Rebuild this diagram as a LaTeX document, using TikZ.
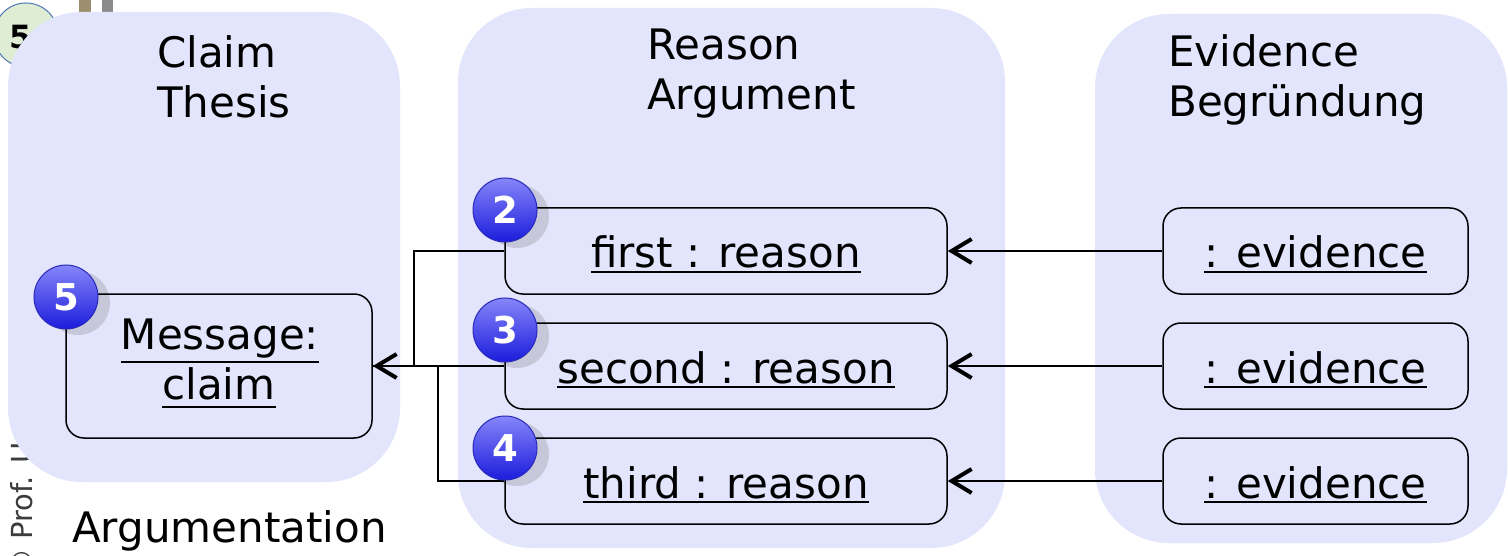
\documentclass[tikz,border=0pt]{standalone}
\usepackage{fontspec}
\setmainfont{DejaVu Sans}
\usetikzlibrary{arrows.meta}
\definecolor{panel}{HTML}{E2E5FC}
\definecolor{shadowc}{HTML}{C6C8DA}
\definecolor{badgetop}{HTML}{8585FA}
\definecolor{badgebot}{HTML}{1C1CDC}
\definecolor{badgeline}{HTML}{2A2AB8}
\definecolor{greenfill}{HTML}{DEEDD3}
\definecolor{greenline}{HTML}{5077B5}
\definecolor{barbrown}{HTML}{9E8E70}
\definecolor{bargray}{HTML}{8A8A8A}
\definecolor{copyc}{HTML}{3C3C3C}
\newcommand\ulin[2]{\leavevmode\setbox0=\hbox{#2}\rlap{\rule[-#1]{\wd0}{2pt}}\box0}
\begin{document}
\begin{tikzpicture}[x=1pt,y=-1pt,
  font=\fontsize{42}{50}\selectfont,
  panelfill/.style={fill=panel, rounded corners=74pt},
  objbox/.style={draw=black, line width=1.5pt, rounded corners=18pt, inner sep=0pt, text height=34pt, text depth=0pt},
  reasonbox/.style={objbox, minimum width=442pt, minimum height=86pt},
  evidbox/.style={objbox, minimum width=305pt, minimum height=86pt},
  msgbox/.style={draw=black, line width=1.5pt, rounded corners=18pt, minimum width=306pt, minimum height=144pt},
  title/.style={anchor=base west, inner sep=0pt},
  conn/.style={draw=black, line width=1.5pt},
  arr/.style={-{Straight Barb[length=20pt,width=24pt,line width=4pt]}},
  badge/.style={circle, minimum size=64pt, inner sep=0pt, draw=badgeline, line width=1pt,
    top color=badgetop, bottom color=badgebot, text=white,
    font=\fontsize{37}{37}\selectfont\bfseries},
  ]
\useasboundingbox (0,0) rectangle (1508,556);
\clip (0,0) rectangle (1508,556);
\fill[white] (0,0) rectangle (1508,556);
% slide artefacts
\fill[barbrown] (79,0) rectangle (91,30);
\fill[bargray] (102,0) rectangle (113,30);
\node[circle, minimum size=64pt, fill=greenfill, draw=greenline, line width=1pt, inner sep=0pt] (g5) at (26,35) {};
\node[inner sep=0pt, font=\fontsize{32}{32}\selectfont\bfseries] (g5t) at (21,37) {5};
\node[rotate=90, anchor=base west, inner sep=0pt, text=copyc, font=\fontsize{29}{29}\selectfont] (copy) at (32,578) {© Prof. U};
% panels
\fill[panelfill] (8,12) rectangle (400,482);
\fill[panelfill] (458,8) rectangle (1005,548);
\fill[panelfill] (1095,14) rectangle (1507,543);
% titles
\node[title] (t1a) at (157,68) {Claim};
\node[title] (t1b) at (157,118) {Thesis};
\node[title] (t2a) at (647,60) {Reason};
\node[title] (t2b) at (647,110) {Argument};
\node[title] (t3a) at (1168,67) {Evidence};
\node[title] (t3b) at (1168,117) {Begründung};
\node[title] (argu) at (72,542) {Argumentation};
% shadows of badges
\foreach \x/\y in {66/297, 505/210, 505/330, 505/448}
  \fill[shadowc] (\x+12,\y+6) circle[radius=32pt];
% boxes
\node[msgbox] (msg) at (219,366) {};
\node[anchor=base, inner sep=0pt] (msgt1) at (220,349) {\ulin{14pt}{Message:}};
\node[anchor=base, inner sep=0pt] (msgt2) at (219,399) {\ulin{9pt}{claim}};
\node[reasonbox] (r1) at (726,251) {\ulin{5pt}{first : reason}};
\node[reasonbox] (r2) at (726,366) {\ulin{5pt}{second : reason}};
\node[reasonbox] (r3) at (726,481) {\ulin{5pt}{third : reason}};
\node[evidbox] (e1) at (1315.5,251) {\ulin{5pt}{: evidence}};
\node[evidbox] (e2) at (1315.5,366) {\ulin{5pt}{: evidence}};
\node[evidbox] (e3) at (1315.5,481) {\ulin{5pt}{: evidence}};
% connectors
\draw[conn, arr] (e1) -- (r1);
\draw[conn, arr] (e2) -- (r2);
\draw[conn, arr] (e3) -- (r3);
\coordinate (j1) at (414,251);
\coordinate (j3) at (438,366);
\draw[conn] (r1.west) -- (j1) |- (msg.east);
\draw[conn] (r3.west) -| (j3);
\draw[conn, arr] (r2.west) -- (msg.east);
% badges
\node[badge] (b5) at (66,297) {5};
\node[badge] (b2) at (505,210) {2};
\node[badge] (b3) at (505,330) {3};
\node[badge] (b4) at (505,448) {4};
\end{tikzpicture}
\end{document}
